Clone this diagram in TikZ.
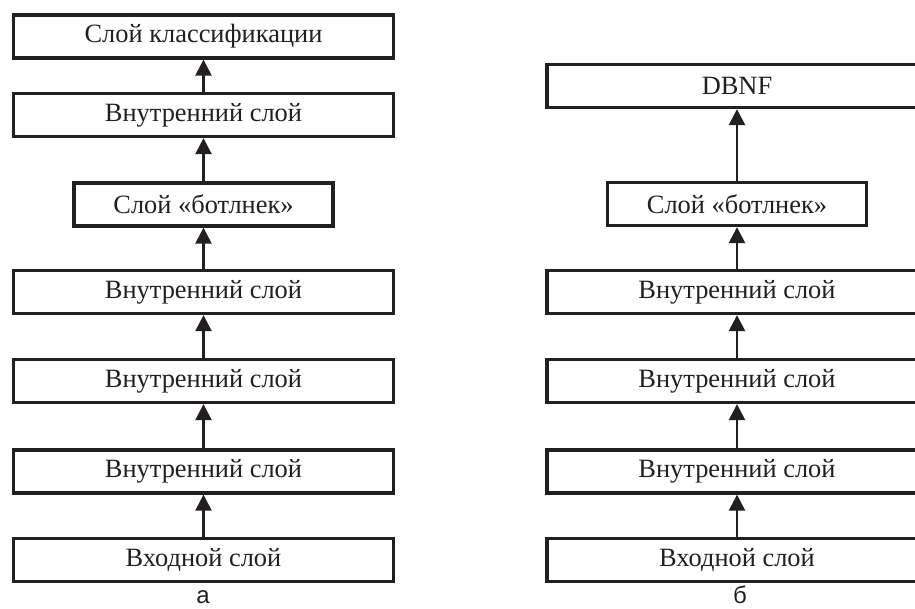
\documentclass[tikz,border=0pt]{standalone}
\usepackage{fontspec}
\setmainfont{Liberation Serif}
\newfontfamily\labelfont{Liberation Sans}
\usetikzlibrary{arrows.meta}
\definecolor{ink}{HTML}{231F20}
\tikzset{
  layer/.style={draw=ink, line width=3.3pt, fill=white, minimum width=380pt,
    minimum height=43pt, inner sep=0pt, text=ink,
    font=\fontsize{26.4}{30}\selectfont},
  narrow/.style={layer, minimum width=259pt},
  flow/.style={draw=ink, line width=2.5pt,
    -{Triangle[width=16pt,length=16pt]}},
  caption/.style={text=ink, font=\labelfont\fontsize{24}{26}\selectfont}
}
\begin{document}
\begin{tikzpicture}[x=1pt,y=1pt]
\useasboundingbox (0,0) rectangle (915,608);
\clip (0,0) rectangle (915,608);
% left stack
\node[layer]  (a7) at (203.5,48)    {Входной слой};
\node[layer]  (a6) at (203.5,136.5) {Внутренний слой};
\node[layer]  (a5) at (203.5,227)   {Внутренний слой};
\node[layer]  (a4) at (203.5,316)   {Внутренний слой};
\node[narrow] (a3) at (203.5,403.5) {Слой «ботлнек»};
\node[layer]  (a2) at (203.5,493)   {Внутренний слой};
\node[layer]  (a1) at (203.5,571.5) {Слой классификации};
\foreach \s/\t in {a7/a6,a6/a5,a5/a4,a4/a3,a3/a2,a2/a1}
  \draw[flow] (\s.north) -- (\t.south);
\node[caption, anchor=base] (la) at (203,5) {а};
% right stack
\node[layer]  (b6) at (737,48)    {Входной слой};
\node[layer]  (b5) at (737,136.5) {Внутренний слой};
\node[layer]  (b4) at (737,227)   {Внутренний слой};
\node[layer]  (b3) at (737,316)   {Внутренний слой};
\node[narrow] (b2) at (737,404)   {Слой «ботлнек»};
\node[layer]  (b1) at (737,522)   {DBNF};
\foreach \s/\t in {b6/b5,b5/b4,b4/b3,b3/b2,b2/b1}
  \draw[flow] (\s.north) -- (\t.south);
\node[caption, anchor=base] (lb) at (740,5) {б};
\end{tikzpicture}
\end{document}
